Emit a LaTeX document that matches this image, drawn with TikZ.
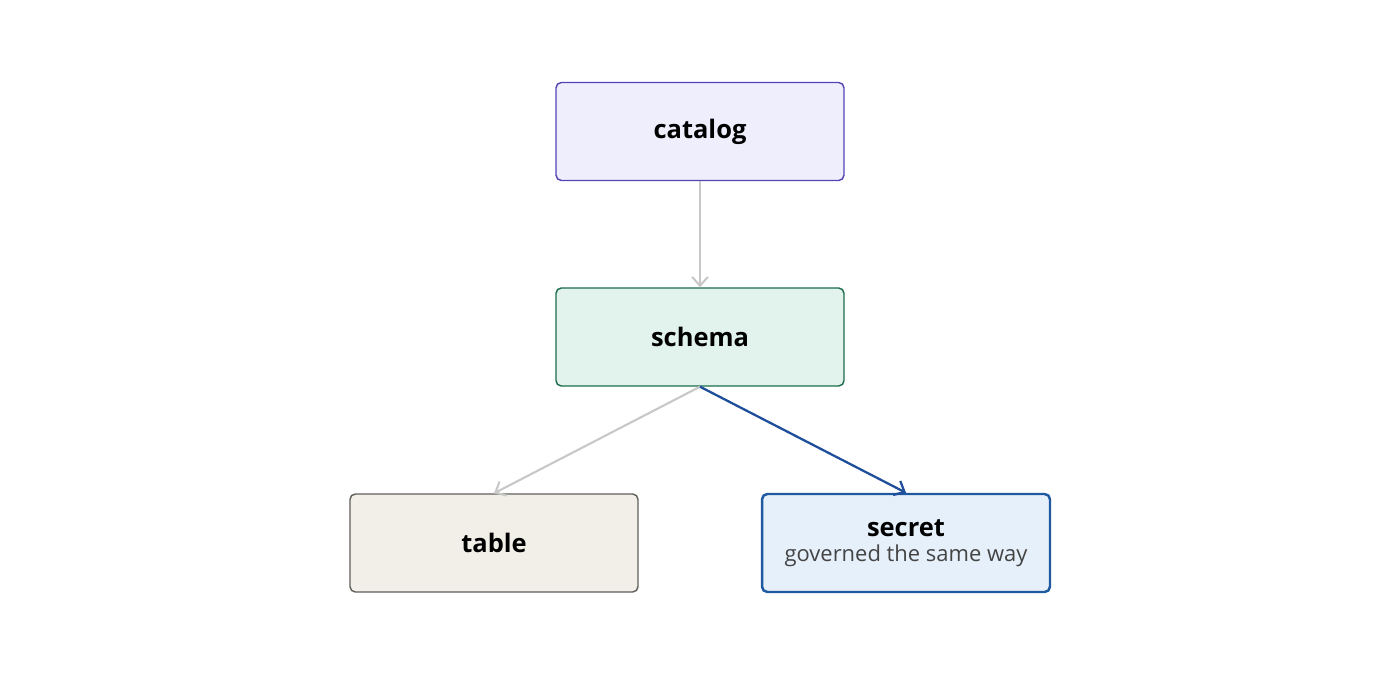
\documentclass[tikz,border=0pt]{standalone}
\usepackage{fontspec}
\setmainfont{Open Sans}
\usetikzlibrary{arrows.meta}
\definecolor{catF}{HTML}{EEEEFC}\definecolor{catD}{HTML}{5443B5}
\definecolor{schF}{HTML}{E1F3EC}\definecolor{schD}{HTML}{1A6B4A}
\definecolor{tabF}{HTML}{F1EFE8}\definecolor{tabD}{HTML}{5F5E5A}
\definecolor{secF}{HTML}{E6F0FA}\definecolor{secD}{HTML}{1F5AA0}
\definecolor{grayA}{HTML}{C8C8C8}\definecolor{blueA}{HTML}{1F4E9A}
\definecolor{subT}{HTML}{444444}
\begin{document}
\begin{tikzpicture}[x=0.02cm,y=-0.02cm,
 box/.style={draw,rounded corners=3pt,minimum width=5.76cm,minimum height=1.96cm,line width=0.8pt,font=\fontsize{14.5}{16}\selectfont\bfseries,align=center},
 garrow/.style={draw=grayA,line width=1.2pt,-{Straight Barb[length=5pt,width=9pt]}},
 barrow/.style={draw=blueA,line width=1.3pt,-{Straight Barb[length=5pt,width=9pt]}}]
\useasboundingbox (0,0) rectangle (1400,679);
\node[box,draw=catD,fill=catF] (cat) at (700,131.5) {catalog};
\node[box,draw=schD,fill=schF] (sch) at (700,337) {schema};
\node[box,draw=tabD,fill=tabF] (tab) at (494,543) {table};
\node[box,draw=secD,fill=secF,line width=1.4pt] (sec) at (906,543) {secret\\[-2pt]{\fontsize{12.5}{14}\selectfont\mdseries\color{subT}governed the same way}};
\draw[garrow] (cat.south) -- (sch.north);
\draw[garrow] (sch.south) -- (tab.north);
\draw[barrow] (sch.south) -- (sec.north);
\end{tikzpicture}
\end{document}
